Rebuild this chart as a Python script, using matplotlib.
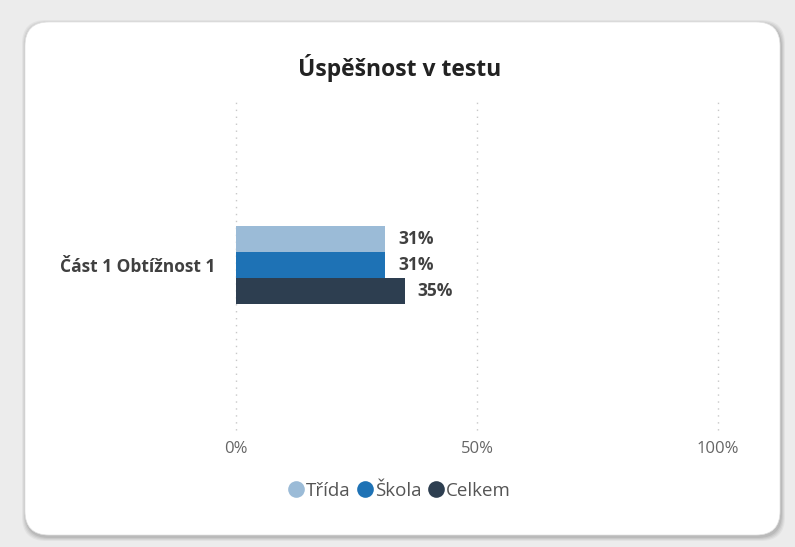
import matplotlib.pyplot as plt
from matplotlib.patches import FancyBboxPatch
from matplotlib.lines import Line2D

plt.rcParams['font.family'] = ['Open Sans', 'DejaVu Sans']

# data
categories = ["Část 1 Obtížnost 1"]
series = ["Třída", "Škola", "Celkem"]
values = {
    "Třída": [31],
    "Škola": [31],
    "Celkem": [35],
}
colors = {"Třída": "#9BBBD7", "Škola": "#1E72B5", "Celkem": "#2D3E50"}
ticks = [0, 50, 100]

W, H = 795, 547
fig = plt.figure(figsize=(W / 100, H / 100), dpi=100)
fig.patch.set_facecolor("#ececec")

# card with soft shadow
for i, a in enumerate([0.04, 0.05, 0.06, 0.07]):
    d = 4 - i
    sh = FancyBboxPatch(((25 - d + 1) / W, (12 - d - 2) / H), (755 + 2 * d) / W, (513 + 2 * d) / H,
                        boxstyle="round,pad=0,rounding_size=0.03", transform=fig.transFigure,
                        facecolor="black", edgecolor="none", alpha=a, zorder=0, mutation_aspect=W / H)
    fig.patches.append(sh)
card = FancyBboxPatch((25 / W, 12 / H), 755 / W, 513 / H,
                      boxstyle="round,pad=0,rounding_size=0.03", transform=fig.transFigure,
                      facecolor="white", edgecolor="#e2e2e2", linewidth=0.5, zorder=1,
                      mutation_aspect=W / H)
fig.patches.append(card)

ax = fig.add_axes([236 / W, 1 - 430 / H, (718 - 236) / W, 330 / H])
ax.set_facecolor("none")
ax.set_zorder(2)

bar_h = 26 / 330
offsets = [-bar_h, 0, bar_h]
for s, off in zip(series, offsets):
    ys = [i + off for i in range(len(categories))]
    ax.barh(ys, values[s], height=bar_h, color=colors[s], zorder=3, label=s)
    for y, v in zip(ys, values[s]):
        ax.text(v + 2.7, y, f"{v}%", va="center", ha="left", fontsize=12.5,
                fontweight="bold", color="#404040", zorder=4)

ax.set_xlim(0, 100)
ax.set_ylim(len(categories) - 0.5, -0.5)
ax.set_xticks(ticks)
ax.set_xticklabels([f"{t}%" for t in ticks], color="#666666", fontsize=12)
ax.set_yticks(range(len(categories)))
ax.set_yticklabels(categories, fontsize=12.5, fontweight="bold", color="#404040")
ax.tick_params(axis="both", length=0)
ax.tick_params(axis="x", pad=8)
ax.tick_params(axis="y", pad=15)
for sp in ax.spines.values():
    sp.set_visible(False)
ax.grid(axis="x", linestyle=(0, (1, 4)), color="#c8c8c8", linewidth=1, zorder=0)
for gl in ax.get_xgridlines():
    gl.set_clip_on(False)

fig.text(400 / W, 1 - 68 / H, "Úspěšnost v testu", ha="center", va="center",
         fontsize=16.5, fontweight="bold", color="#222222", zorder=5)

handles = [Line2D([], [], marker="o", linestyle="none", markersize=12,
                  markerfacecolor=colors[s], markeredgecolor="none") for s in series]
fig.legend(handles, series, loc="center", bbox_to_anchor=(398 / W, 1 - 491 / H),
           ncol=3, frameon=False, fontsize=13.5, labelcolor="#555555",
           handletextpad=0.0, columnspacing=0.2, handlelength=1.1)

fig.savefig("out.png", dpi=100, facecolor=fig.get_facecolor())
